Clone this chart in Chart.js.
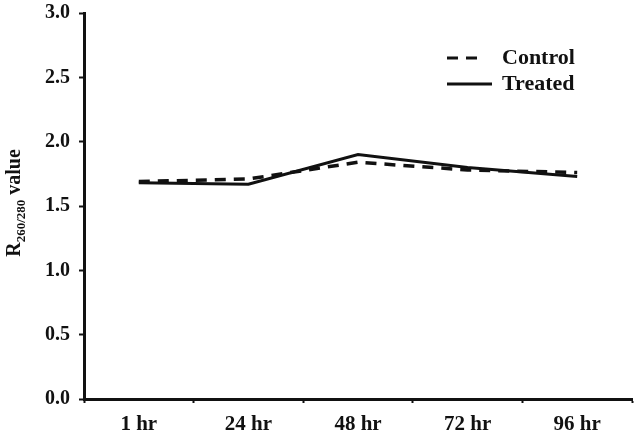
<!DOCTYPE html>
<html><head><meta charset="utf-8">
<script src="https://cdn.jsdelivr.net/npm/chart.js@4"></script>
<style>html,body{margin:0;padding:0;background:#fff;}#wrap{width:634px;height:438px;position:relative;}</style>
</head><body><div id="wrap"><canvas id="c" width="634" height="438"></canvas></div>
<script>
const categories = ["1 hr", "24 hr", "48 hr", "72 hr", "96 hr"];
const controlValues = [1.69, 1.71, 1.84, 1.78, 1.76];
const treatedValues = [1.68, 1.67, 1.90, 1.80, 1.73];
const yTicks = [0.0, 0.5, 1.0, 1.5, 2.0, 2.5, 3.0];
const seriesNames = ["Control", "Treated"];
const yTitleMain = "R", yTitleSub = "260/280", yTitleRest = " value";

const FONT = "'Liberation Serif', 'Times New Roman', serif";

const yTitlePlugin = {
  id: 'ytitle',
  afterDraw(chart) {
    const ctx = chart.ctx, a = chart.chartArea;
    ctx.save();
    const cy = (a.top + a.bottom) / 2 - 3;
    ctx.translate(20, cy);
    ctx.rotate(-Math.PI / 2);
    ctx.fillStyle = '#111';
    ctx.textBaseline = 'alphabetic';
    const f1 = "bold 20px " + FONT, f2 = "bold 13px " + FONT;
    ctx.font = f1; const w1 = ctx.measureText(yTitleMain).width; const w3 = ctx.measureText(yTitleRest).width;
    ctx.font = f2; const w2 = ctx.measureText(yTitleSub).width;
    let x = -(w1 + w2 + w3) / 2;
    ctx.font = f1; ctx.fillText(yTitleMain, x, 0); x += w1;
    ctx.font = f2; ctx.fillText(yTitleSub, x, 5); x += w2;
    ctx.font = f1; ctx.fillText(yTitleRest, x, 0);
    ctx.restore();
  }
};

const legendPlugin = {
  id: 'customLegend',
  afterDraw(chart) {
    const ctx = chart.ctx, a = chart.chartArea;
    ctx.save();
    const x0 = a.right - 185;
    chart.data.datasets.forEach((ds, i) => {
      const y = 58 + i * 26;
      ctx.strokeStyle = ds.borderColor; ctx.lineWidth = 3;
      ctx.setLineDash(ds.borderDash || []);
      ctx.beginPath(); ctx.moveTo(x0, y); ctx.lineTo(x0 + (ds.borderDash ? 38 : 45), y); ctx.stroke();
      ctx.setLineDash([]);
      ctx.fillStyle = '#111';
      ctx.font = "bold 22px " + FONT;
      ctx.textBaseline = 'middle';
      ctx.fillText(ds.label, x0 + 55, y);
    });
    ctx.restore();
  }
};

new Chart(document.getElementById('c'), {
  type: 'line',
  data: {
    labels: categories,
    datasets: [
      { label: seriesNames[0], data: controlValues, borderColor: '#111', borderWidth: 3.5, borderDash: [11, 8], pointRadius: 0, tension: 0, fill: false },
      { label: seriesNames[1], data: treatedValues, borderColor: '#111', borderWidth: 3, pointRadius: 0, tension: 0, fill: false }
    ]
  },
  options: {
    responsive: false, animation: false,
    layout: { padding: { top: 13, right: 2, left: 0, bottom: 0 } },
    plugins: { legend: { display: false }, tooltip: { enabled: false } },
    scales: {
      x: {
        offset: true,
        grid: { display: true, drawOnChartArea: false, drawTicks: true, tickLength: 4, tickWidth: 2, tickColor: '#111', offset: true },
        border: { display: true, color: '#111', width: 3 },
        ticks: { color: '#111', font: { family: FONT, size: 21, weight: 'bold' }, padding: 9, maxRotation: 0 },
        afterFit(s) { s.height = 39; s.paddingLeft = 0; s.paddingRight = 0; }
      },
      y: {
        min: 0, max: 3,
        afterBuildTicks(s) { s.ticks = yTicks.map(v => ({ value: v })); },
        grid: { display: true, drawOnChartArea: false, drawTicks: true, tickLength: 5, tickWidth: 2, tickColor: '#111' },
        border: { display: true, color: '#111', width: 3 },
        ticks: { color: '#111', font: { family: FONT, size: 20, weight: 'bold' }, padding: 9, callback: v => Number(v).toFixed(1) },
        afterFit(s) { s.width = 84; s.paddingTop = 0; s.paddingBottom = 0; }
      }
    }
  },
  plugins: [yTitlePlugin, legendPlugin]
});
</script></body></html>
